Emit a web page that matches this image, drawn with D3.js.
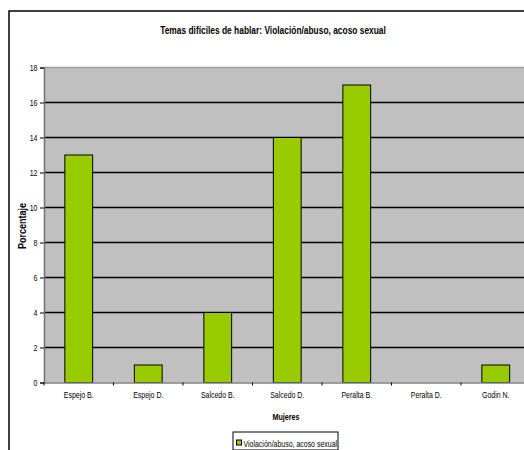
<!DOCTYPE html>
<html><head><meta charset="utf-8">
<script src="https://cdn.jsdelivr.net/npm/d3@7"></script>
<style>
body{margin:0;background:#fff;}
text{font-family:"Liberation Sans",Arial,sans-serif;fill:#000;}
</style></head>
<body>
<svg id="chart" width="524" height="450"></svg>
<script>
const categories = ["Espejo B.","Espejo D.","Salcedo B.","Salcedo D.","Peralta B.","Peralta D.","Godin N."];
const values = [13,1,4,14,17,0,1];
const yTicks = [0,2,4,6,8,10,12,14,16,18];
const title = "Temas difíciles de hablar: Violación/abuso, acoso sexual";
const seriesName = "Violación/abuso, acoso sexual";

const svg = d3.select("#chart");
const L = 44, R = 530.5, T = 67.5, B = 382.5;

function label(x0, y0, str, size, sx, opts={}) {
  const t = svg.append("text")
    .attr("transform", `translate(${x0},${y0})${opts.rot?` rotate(${opts.rot})`:""} scale(${sx},1)`)
    .attr("text-anchor", opts.anchor || "middle")
    .attr("font-size", size).text(str);
  if (opts.bold) t.attr("font-weight","bold");
  return t;
}

// outer frame
svg.append("rect").attr("x",9).attr("y",11).attr("width",530).attr("height",460)
  .attr("fill","#fff").attr("stroke","#000").attr("stroke-width",1.5);

const xb = d3.scaleBand().domain(categories).range([L,R]);
const y = d3.scaleLinear().domain([0,18]).range([B,T]);

// plot area
svg.append("rect").attr("x",L).attr("y",T).attr("width",R-L).attr("height",B-T).attr("fill","#c0c0c0");
svg.append("line").attr("x1",L).attr("x2",R).attr("y1",T).attr("y2",T).attr("stroke","#a0a0a0").attr("stroke-width",1.5);

// gridlines
svg.append("g").selectAll("line").data(yTicks.filter(d=>d>0&&d<18)).join("line")
  .attr("x1",L).attr("x2",R).attr("y1",d=>y(d)).attr("y2",d=>y(d))
  .attr("stroke","#000").attr("stroke-width",1.3);

// bars
const bw = xb.bandwidth()/2.5;
svg.append("g").selectAll("rect").data(values).join("rect")
  .attr("x",(d,i)=>xb(categories[i])+xb.bandwidth()/2-bw/2)
  .attr("width",bw)
  .attr("y",d=>y(d)).attr("height",d=>B-y(d))
  .attr("fill","#99cc00").attr("stroke","#000").attr("stroke-width",1)
  .attr("display",d=>d>0?null:"none");

// y axis
const yAxis = d3.axisLeft(y).tickValues(yTicks).tickSize(4).tickPadding(3);
const gy = svg.append("g").attr("transform",`translate(${L},0)`).call(yAxis);
gy.select(".domain").attr("stroke","#707070").attr("stroke-width",1.5);
gy.selectAll(".tick line").attr("stroke","#000");
gy.selectAll(".tick text").attr("font-size",8.5).attr("x",0)
  .attr("transform","translate(-6.5,0) scale(0.82,1)");

// x axis
const xAxis = d3.axisBottom(xb).tickSize(0).tickPadding(9);
const gx = svg.append("g").attr("transform",`translate(0,${B})`).call(xAxis);
gx.select(".domain").attr("stroke","#808080").attr("stroke-width",1.5);
gx.selectAll(".tick text").attr("font-size",8.5).attr("transform","scale(0.82,1)");
gx.selectAll("line.bnd").data(categories.concat(["end"])).join("line").attr("class","bnd")
  .attr("x1",(d,i)=>L+i*xb.step()).attr("x2",(d,i)=>L+i*xb.step())
  .attr("y1",0).attr("y2",3).attr("stroke","#000");

// title
label(273, 34, title, 10, 0.84, {bold:true});

// axis titles
label(26, 226, "Porcentaje", 10, 0.9, {bold:true, rot:-90});
label(286, 420, "Mujeres", 9, 0.8, {bold:true});

// legend
const lg = svg.append("g");
lg.append("rect").attr("x",233).attr("y",432).attr("width",105).attr("height",18)
  .attr("fill","#fff").attr("stroke","#000").attr("stroke-width",1);
lg.append("rect").attr("x",236.5).attr("y",440).attr("width",5).attr("height",5)
  .attr("fill","#99cc00").attr("stroke","#000").attr("stroke-width",1);
label(243.5, 447, seriesName, 8.5, 0.82, {anchor:"start"});
</script>
</body></html>
